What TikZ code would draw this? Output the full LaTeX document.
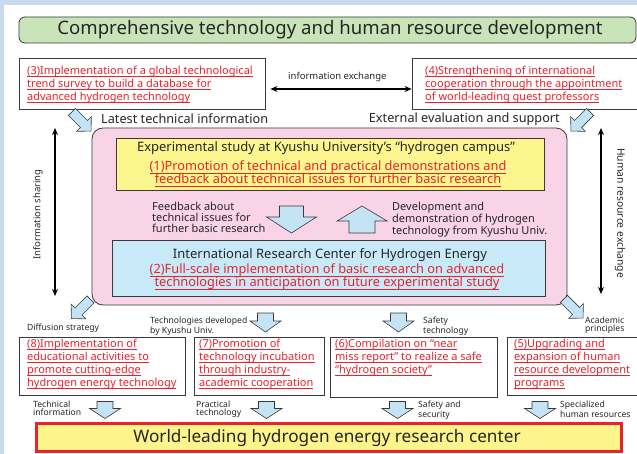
\documentclass[tikz,border=0pt]{standalone}
\usepackage{fontspec}
\setmainfont{Noto Sans}
\usetikzlibrary{arrows.meta,calc}

\definecolor{bgblue}{HTML}{C9D9EE}
\definecolor{titlegreen}{HTML}{C8E4B8}
\definecolor{campuspink}{HTML}{F9D3E6}
\definecolor{studyyellow}{HTML}{FDF68E}
\definecolor{centerblue}{HTML}{C8EAF8}
\definecolor{arrowblue}{HTML}{C4E3F5}
\definecolor{redtext}{HTML}{E8232B}
\definecolor{edgegray}{HTML}{3A3A3A}
\definecolor{goalyellow}{HTML}{FEF48C}

% red underlined line of text
\newcommand\rl[1]{\setbox0\hbox{#1}\rlap{\rule[-2.3pt]{\wd0}{0.6pt}}\box0}

% block arrow: centre x, centre y, angle, half length, head half width, shaft half width, head length
\newcommand\blockarrow[7]{%
  \begin{scope}[shift={(#1,#2)},rotate=#3]
    \draw[blockarr] ({-#4},{-#6}) -- ({#4-#7},{-#6}) -- ({#4-#7},{-#5}) -- ({#4},0)
      -- ({#4-#7},{#5}) -- ({#4-#7},{#6}) -- ({-#4},{#6}) -- cycle;
  \end{scope}}

\tikzset{
  frame/.style={draw=edgegray, line width=0.8pt, inner sep=0, fill=white},
  redtxt/.style={text=redtext, align=left, inner sep=0, font=\fontsize{11}{13.2}\selectfont},
  redbig/.style={text=redtext, align=center, inner sep=0, font=\fontsize{12.8}{13}\selectfont},
  label/.style={text=black!85, inner sep=0, font=\fontsize{12.7}{14}\selectfont},
  midlabel/.style={text=black!85, align=left, inner sep=0, font=\fontsize{11}{11}\selectfont},
  tiny/.style={text=black!85, align=left, inner sep=0, font=\fontsize{8.6}{7.6}\selectfont},
  blockarr/.style={draw=edgegray, line width=0.6pt, fill=arrowblue, line join=miter},
  dblarrow/.style={{Stealth[length=7pt,width=6pt]}-{Stealth[length=7pt,width=6pt]}, line width=1.4pt, black},
}

\begin{document}
\begin{tikzpicture}[x=1pt,y=-1pt]
\useasboundingbox (0,0) rectangle (637,454);
\fill[bgblue] (0,0) rectangle (637,454);
\fill[white] (4,5) rectangle (637,454);

% headline
\node[draw=edgegray, line width=0.8pt, fill=titlegreen, rounded corners=6pt,
      minimum width=617pt, minimum height=26pt, inner sep=0] (title) at (327.5,30) {};
\node[inner sep=0, font=\fontsize{18.6}{20}\selectfont, text=black!85] (titletext) at (330,30)
  {Comprehensive technology and human resource development};

% upper corner boxes
\node[frame, minimum width=246pt, minimum height=51pt] (b3) at (142,83.5) {};
\node[redtxt, anchor=north west] (t3) at (27,65.5)
  {\rl{(3)Implementation of a global technological}\\\rl{trend survey to build a database for}\\\rl{advanced hydrogen technology}};
\node[frame, minimum width=226pt, minimum height=51pt] (b4) at (525,83.5) {};
\node[redtxt, anchor=north west] (t4) at (425,65.5)
  {\rl{(4)Strengthening of international}\\\rl{cooperation through the appointment}\\\rl{of world-leading guest professors}};

\node[inner sep=0, font=\fontsize{9.5}{10}\selectfont, text=black!85, anchor=west] (infoex) at (288,77) {information exchange};
\draw[dblarrow] (b3.east |- 0,89) ++(5,0) coordinate (ieL) -- (b4.west |- 0,89) coordinate (ieR);

\node[label, anchor=west] (latest) at (101,119) {Latest technical information};
\node[label, anchor=east] (external) at (560,119) {External evaluation and support};

% campus
\node[draw=edgegray, line width=0.8pt, fill=campuspink, rounded corners=11pt,
      minimum width=475pt, minimum height=177pt, inner sep=0] (campus) at (329.5,216.5) {};

\node[draw=edgegray, line width=0.8pt, fill=studyyellow, minimum width=428pt, minimum height=52pt, inner sep=0] (study) at (330,164) {};
\node[label, font=\fontsize{13}{14}\selectfont] (studyhead) at (326,148) {Experimental study at Kyushu University’s “hydrogen campus”};
\node[redbig, anchor=north] (t1) at (328,161)
  {\rl{(1)Promotion of technical and practical demonstrations and}\\[0pt]\rl{feedback about technical issues for further basic research}};

\node[draw=edgegray, line width=0.8pt, fill=centerblue, minimum width=433pt, minimum height=56pt, inner sep=0] (irc) at (328.5,268) {};
\node[label, font=\fontsize{13}{14}\selectfont] (irchead) at (330,255) {International Research Center for Hydrogen Energy};
\node[redbig, anchor=north] (t2) at (327,264)
  {\rl{(2)Full-scale implementation of basic research on advanced}\\[0pt]\rl{technologies in anticipation on future experimental study}};

\node[midlabel, anchor=north west] (feedback) at (152,201.5) {Feedback about\\technical issues for\\further basic research};
\node[midlabel, anchor=north west] (develop) at (392,201.5) {Development and\\demonstration of hydrogen\\technology from Kyushu Univ.};
\blockarrow{291.5}{219.5}{-90}{13.5}{25}{12}{16}
\blockarrow{362}{219.5}{90}{13.5}{25}{13}{15}

% side exchanges
\coordinate (isT) at (55,128);
\coordinate (isB) at (55,296);
\draw[dblarrow] (isT) -- (isB);
\node[inner sep=0, rotate=90, font=\fontsize{9.5}{10}\selectfont, text=black!85] (infoshare) at (38,214.5) {Information sharing};
\coordinate (hrT) at (601,128);
\coordinate (hrB) at (601,294);
\draw[dblarrow] (hrT) -- (hrB);
\node[inner sep=0, rotate=-90, font=\fontsize{10.3}{10}\selectfont, text=black!85] (hrex) at (620,213) {Human resource exchange};

% diagonal block arrows at the campus corners
\blockarrow{81.5}{121.5}{-45}{13.5}{10.5}{5}{10}
\blockarrow{580.5}{121.5}{-135}{13.5}{10.5}{5}{10}
\blockarrow{81}{309}{-135}{13.5}{10.5}{5}{10}
\blockarrow{573.5}{308.5}{-45}{13.5}{10.5}{5}{10}

% outputs of the campus
\node[tiny, anchor=west] (diffusion) at (27,328.5) {Diffusion strategy};
\node[tiny, anchor=north west] (techdev) at (150,317) {Technologies developed\\by Kyushu Univ.};
\blockarrow{265.5}{322.5}{-90}{9.5}{15.5}{8}{11}
\blockarrow{398.5}{322.5}{-90}{9.5}{15.5}{8}{11}
\node[tiny, anchor=north west] (safetech) at (423,317) {Safety\\technology};
\node[tiny, anchor=north west] (academic) at (585,317) {Academic\\principles};

% lower boxes
\node[frame, minimum width=166pt, minimum height=58pt] (b8) at (102,366) {};
\node[redtxt, anchor=north west] (t8) at (27,338.5)
  {\rl{(8)Implementation of}\\\rl{educational activities to}\\\rl{promote cutting-edge}\\\rl{hydrogen energy technology}};
\node[frame, minimum width=130pt, minimum height=58pt] (b7) at (259,366) {};
\node[redtxt, anchor=north west] (t7) at (199,338.5)
  {\rl{(7)Promotion of}\\\rl{technology incubation}\\\rl{through industry-}\\\rl{academic cooperation}};
\node[frame, minimum width=167pt, minimum height=60pt] (b6) at (413.5,367) {};
\node[redtxt, anchor=north west] (t6) at (335,338.5)
  {\rl{(6)Compilation on “near}\\\rl{miss report” to realize a safe}\\\rl{“hydrogen society”}};
\node[frame, minimum width=134pt, minimum height=58pt] (b5) at (574,366) {};
\node[redtxt, anchor=north west] (t5) at (514,338.5)
  {\rl{(5)Upgrading and}\\\rl{expansion of human}\\\rl{resource development}\\\rl{programs}};

% contributions to the research center
\node[tiny, anchor=north west] (techinfo) at (33,401) {Technical\\information};
\blockarrow{105}{410}{-90}{8.5}{15.5}{8}{10}
\node[tiny, anchor=north west] (practech) at (196,401) {Practical\\technology};
\blockarrow{266.5}{410}{-90}{8.5}{15.5}{8}{10}
\blockarrow{397.5}{410}{-90}{8.5}{15.5}{8}{10}
\node[tiny, anchor=north west] (safesec) at (418,401) {Safety and\\security};
\blockarrow{540}{410}{-90}{8.5}{15.5}{8}{10}
\node[tiny, anchor=north west] (specialized) at (560,401) {Specialized\\human resources};

\node[draw=redtext, line width=2.6pt, fill=goalyellow, minimum width=585pt, minimum height=28pt, inner sep=0] (goal) at (329,437.5) {};
\node[inner sep=0, font=\fontsize{17.2}{18}\selectfont, text=black!85] (goaltext) at (327,438) {World-leading hydrogen energy research center};
\end{tikzpicture}
\end{document}
